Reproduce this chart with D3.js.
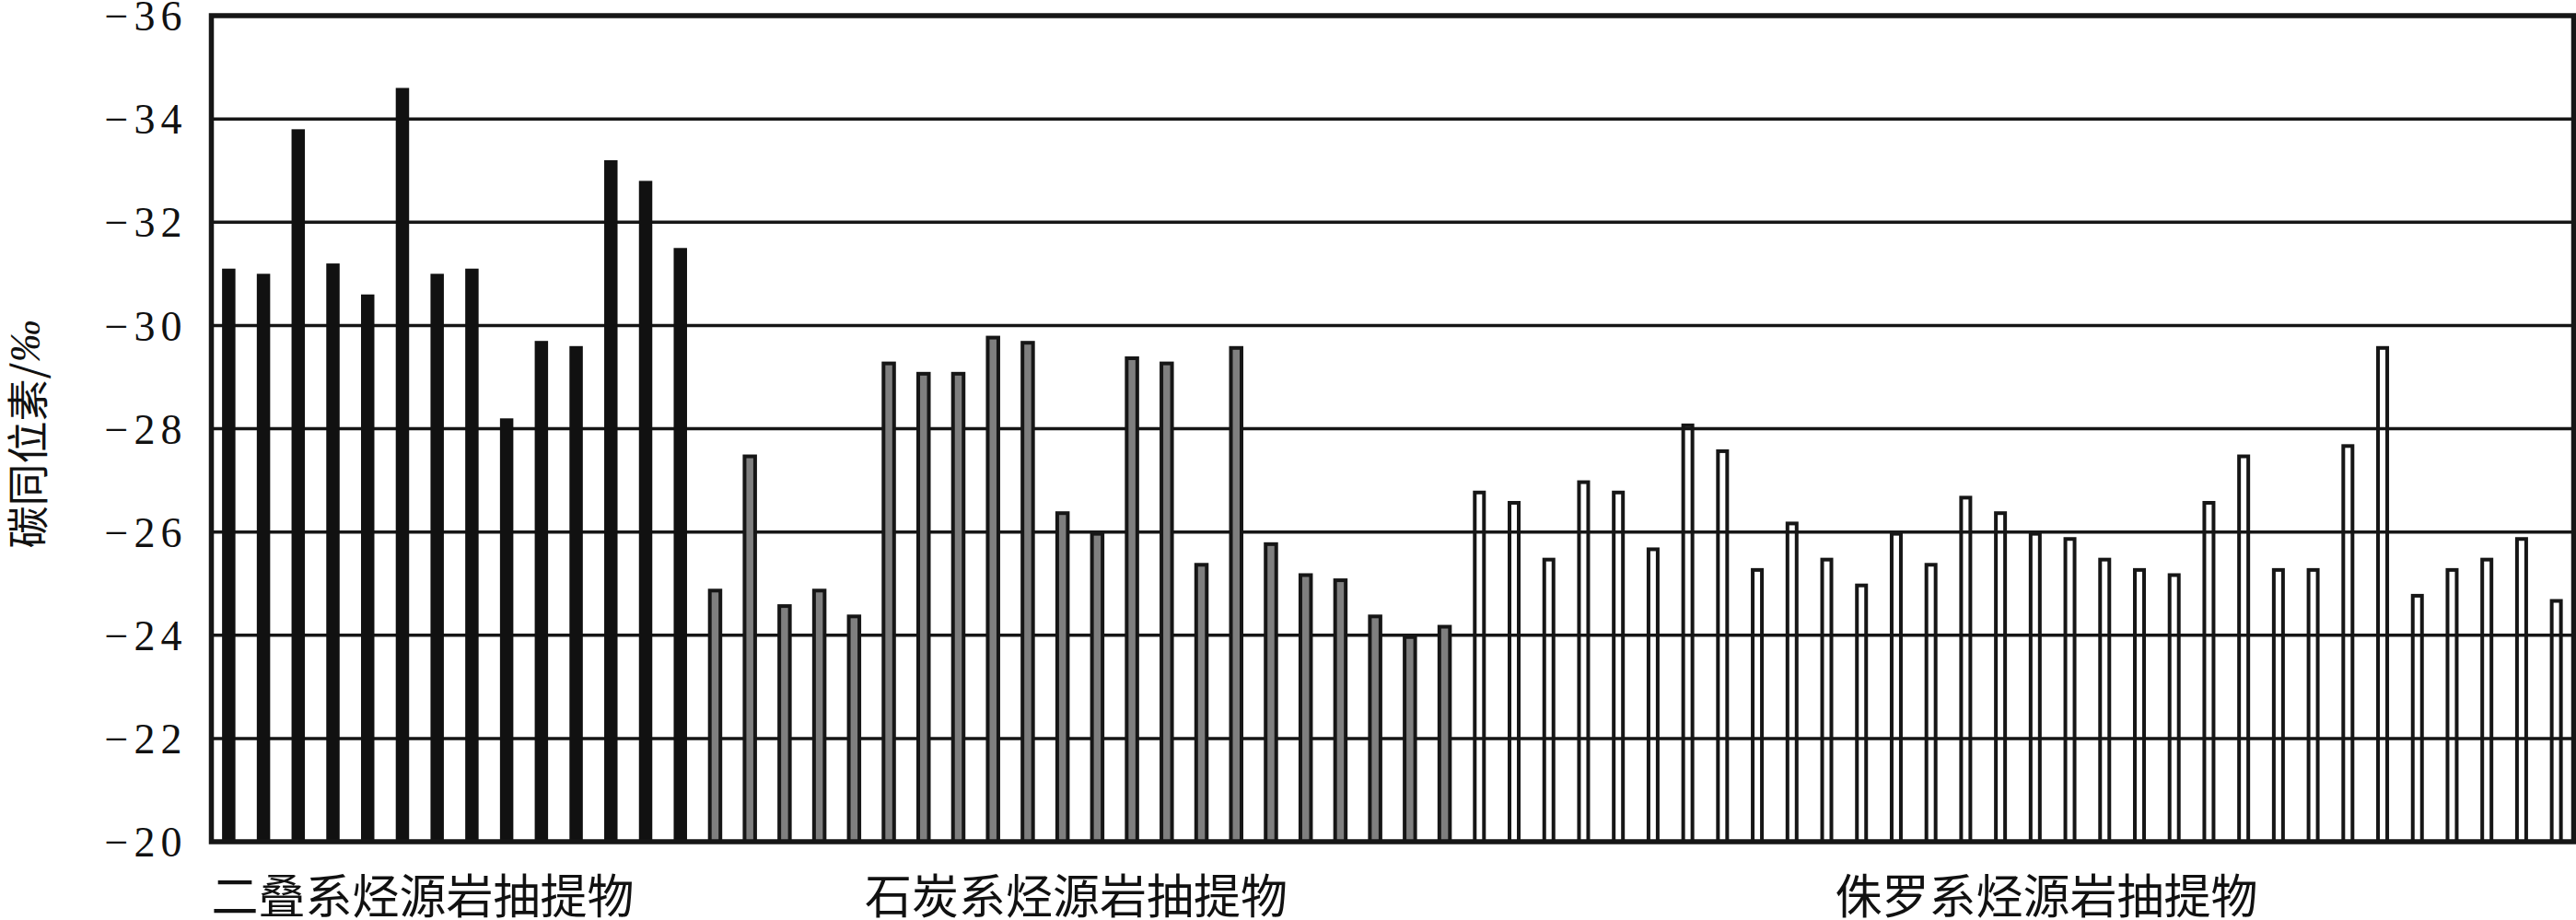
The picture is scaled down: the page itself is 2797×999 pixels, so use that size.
<!DOCTYPE html>
<html>
<head>
<meta charset="utf-8">
<script src="https://cdn.jsdelivr.net/npm/d3@7"></script>
<style>
  html, body { margin: 0; padding: 0; background: #fff; }
  svg { display: block; }
</style>
</head>
<body>
<div id="chart"></div>
<script>
// δ13C of source rock extracts (‰)
const permianValues = [-31.1, -31.0, -33.8, -31.2, -30.6, -34.6, -31.0, -31.1, -28.2, -29.7, -29.6, -33.2, -32.8, -31.5];
const carboniferousValues = [-24.9, -27.5, -24.6, -24.9, -24.4, -29.3, -29.1, -29.1, -29.8, -29.7, -26.4, -26.0,
    -29.4, -29.3, -25.4, -29.6, -25.8, -25.2, -25.1, -24.4, -24.0, -24.2];
const jurassicValues = [-26.8, -26.6, -25.5, -27.0, -26.8, -25.7, -28.1, -27.6, -25.3, -26.2, -25.5, -25.0,
    -26.0, -25.4, -26.7, -26.4, -26.0, -25.9, -25.5, -25.3, -25.2, -26.6, -27.5, -25.3,
    -25.3, -27.7, -29.6, -24.8, -25.3, -25.5, -25.9, -24.7];
const groupNames = ['二叠系烃源岩抽提物', '石炭系烃源岩抽提物', '侏罗系烃源岩抽提物'];
const yTicks = [-20, -22, -24, -26, -28, -30, -32, -34, -36];

const width = 2797, height = 999;
const margin = { top: 17, right: 2.5, bottom: 85, left: 229.5 };

const groups = [
    { name: groupNames[0], values: permianValues, style: 'permian' },
    { name: groupNames[1], values: carboniferousValues, style: 'carboniferous' },
    { name: groupNames[2], values: jurassicValues, style: 'jurassic' }
];

// Flatten into one list of bars
const bars = [];
groups.forEach((g, gi) => {
    g.values.forEach(v => bars.push({ index: bars.length, group: gi, style: g.style, value: v }));
});

const svg = d3.select('#chart')
    .append('svg')
    .attr('width', width)
    .attr('height', height);

const x = d3.scaleBand()
    .domain(bars.map(d => d.index))
    .range([margin.left, width - margin.right])
    .paddingInner(0)
    .paddingOuter(0);

const y = d3.scaleLinear()
    .domain([-20, -36])
    .range([height - margin.bottom, margin.top]);

const ink = '#161616';
const serif = '"Liberation Serif", "DejaVu Serif", serif';

// Gridlines
svg.append('g')
    .selectAll('line')
    .data(yTicks.filter(t => t !== -20 && t !== -36))
    .enter()
    .append('line')
    .attr('x1', margin.left)
    .attr('x2', width - margin.right)
    .attr('y1', d => y(d))
    .attr('y2', d => y(d))
    .style('stroke', ink)
    .style('stroke-width', 3.5);

// Bars
const styles = {
    permian: { fill: '#111', stroke: 'none', w: 14.5, sw: 0 },
    carboniferous: { fill: '#7f7f7f', stroke: ink, w: 11.5, sw: 4 },
    jurassic: { fill: 'none', stroke: ink, w: 10, sw: 4 }
};

svg.append('g')
    .selectAll('rect')
    .data(bars)
    .enter()
    .append('rect')
    .attr('x', d => x(d.index) + x.bandwidth() / 2 - styles[d.style].w / 2)
    .attr('width', d => styles[d.style].w)
    .attr('y', d => y(d.value) + styles[d.style].sw / 2)
    .attr('height', d => y(-20) - y(d.value) - styles[d.style].sw / 2)
    .style('fill', d => styles[d.style].fill)
    .style('stroke', d => styles[d.style].stroke)
    .style('stroke-width', d => styles[d.style].sw);

// Frame
svg.append('rect')
    .attr('x', margin.left)
    .attr('y', margin.top)
    .attr('width', width - margin.right - margin.left)
    .attr('height', y(-20) - margin.top)
    .style('fill', 'none')
    .style('stroke', ink)
    .style('stroke-width', 5.5);

// Y axis tick labels (spaced out like the original typesetting)
const yAxis = d3.axisLeft(y)
    .tickValues(yTicks)
    .tickSize(0)
    .tickPadding(26)
    .tickFormat(d => String(d).replace('-', '\u2212'));

const yAxisG = svg.append('g')
    .attr('transform', `translate(${margin.left},0)`)
    .attr('font-family', serif)
    .attr('font-size', 46)
    .call(yAxis);
yAxisG.select('.domain').remove();
yAxisG.selectAll('text')
    .attr('dy', '0.34em')
    .style('font-family', serif)
    .style('font-size', '46px')
    .style('letter-spacing', '6px')
    .style('fill', '#111');

// Y axis title
const title = svg.append('text')
    .attr('transform', `translate(27,${(margin.top + y(-20)) / 2 + 6}) rotate(-90)`)
    .style('text-anchor', 'middle')
    .style('dominant-baseline', 'central')
    .style('font-family', '"Noto Sans CJK SC", sans-serif')
    .style('font-size', '46px')
    .style('fill', '#111');
title.append('tspan').text('碳同位素/');
title.append('tspan')
    .style('font-family', serif)
    .style('font-style', 'italic')
    .text('‰');

// Group labels under the bars
let start = 0;
const labelPos = groups.map((g, gi) => {
    const first = x(start);
    start += g.values.length;
    const last = x(start - 1) + x.bandwidth();
    return { name: g.name, first, center: (first + last) / 2, gi };
});

svg.append('g')
    .selectAll('text')
    .data(labelPos)
    .enter()
    .append('text')
    .attr('x', d => d.gi === 0 ? d.first : d.center + (d.gi === 2 ? 31 : -4))
    .attr('y', 970)
    .style('text-anchor', d => d.gi === 0 ? 'start' : 'middle')
    .style('dominant-baseline', 'central')
    .style('font-family', '"Noto Sans CJK SC", sans-serif')
    .style('font-size', '51px')
    .style('fill', '#111')
    .text(d => d.name);
</script>
</body>
</html>
